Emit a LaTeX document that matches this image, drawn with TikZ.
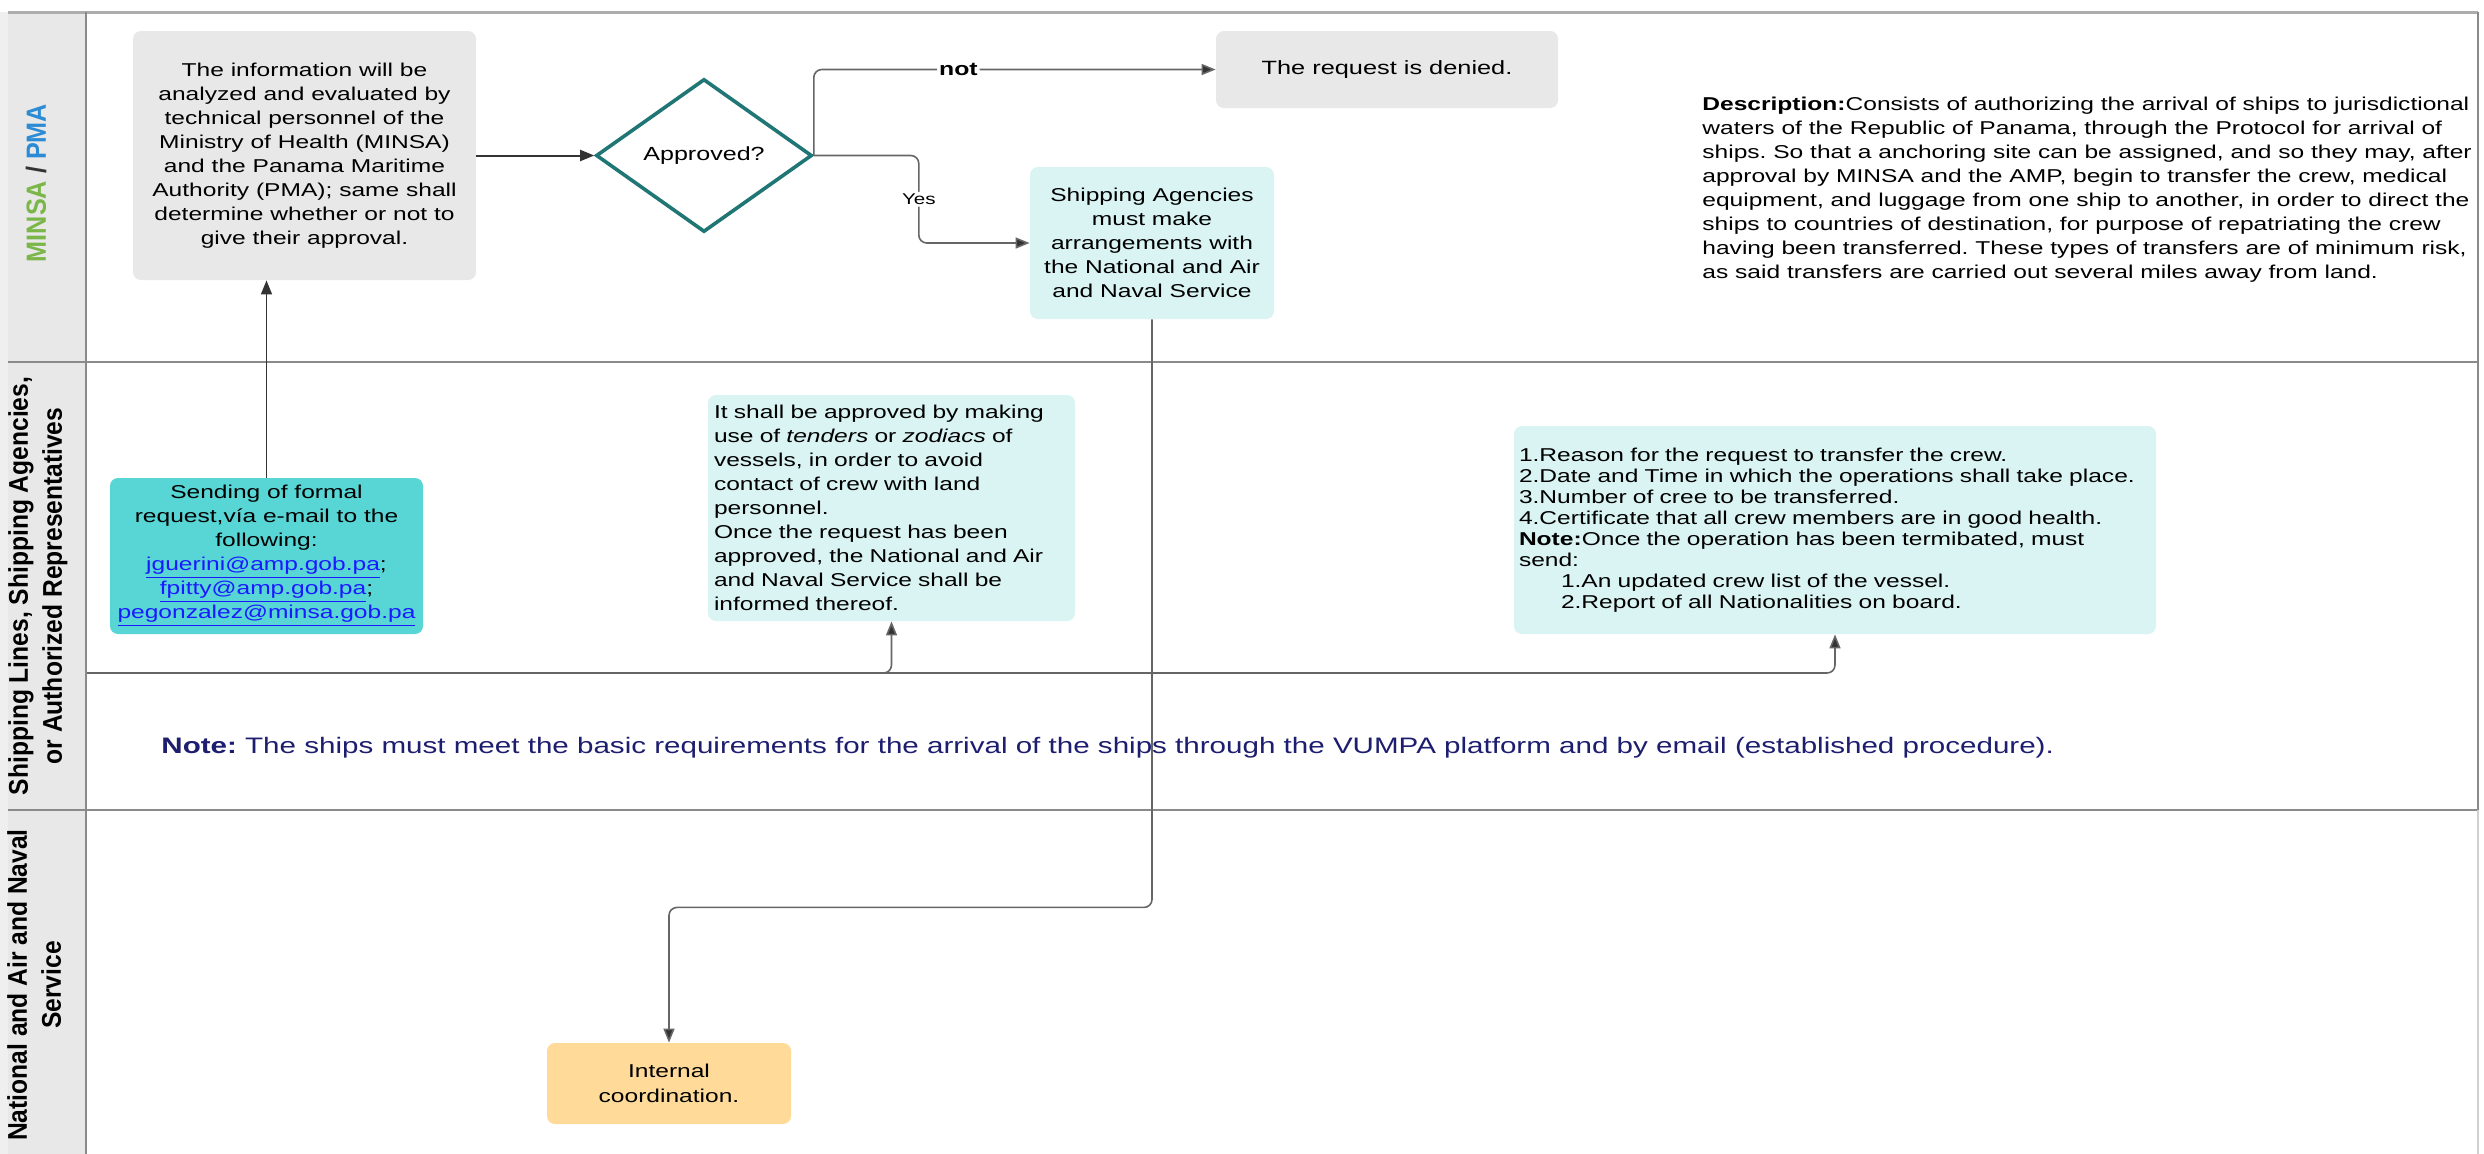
\documentclass[tikz,border=0pt]{standalone}
\usepackage{fontspec}
\setmainfont{Liberation Sans}[FakeStretch=1.32]
\newfontfamily\hdrfont{Liberation Sans}
\usetikzlibrary{arrows.meta,shapes.geometric}
\definecolor{boxgray}{HTML}{E8E8E8}
\definecolor{hdrgray}{HTML}{E8E8E8}
\definecolor{hdrgrayb}{HTML}{EFEFEF}
\definecolor{lightcyan}{HTML}{DAF4F4}
\definecolor{turq}{HTML}{58D6D6}
\definecolor{peach}{HTML}{FFDA99}
\definecolor{diamteal}{HTML}{1F7674}
\definecolor{lanegray}{HTML}{8A8A8A}
\definecolor{linkblue}{HTML}{1A1AFF}
\definecolor{notenavy}{HTML}{1E1E70}
\definecolor{minsagreen}{HTML}{7AB648}
\definecolor{pmablue}{HTML}{2B8BD4}
\definecolor{connlight}{HTML}{666666}
\definecolor{conndark}{HTML}{333333}
\newcommand{\emaillink}[1]{{\color{linkblue}\underline{#1}}}
\frenchspacing
\begin{document}
\begin{tikzpicture}[x=0.5pt,y=-0.5pt,
  every node/.style={font=\fontsize{9.3pt}{12pt}\selectfont},
  procbox/.style={rounded corners=4pt, inner sep=0pt, align=center},
  hdrlabel/.style={rotate=90, inner sep=0pt, align=center},
  connmain/.style={draw=conndark, line width=1pt, -{Triangle[length=7pt,width=5.5pt]}},
  connthin/.style={draw=connlight, line width=0.8pt, rounded corners=4pt,
     -{Triangle[length=7pt,width=5.5pt,fill=conndark]}},
  edgelbl/.style={fill=white, inner sep=1pt}
]
\useasboundingbox (0,0) rectangle (2484,1153);
\fill[white] (0,0) rectangle (2484,1153);

% lanes
\fill[hdrgrayb] (0,12) rectangle (8,1160);
\fill[hdrgray] (8,12) rectangle (86,1160);
\draw[lanegray!70, line width=1.5pt] (8,12) -- (2478,12);
\draw[lanegray, line width=1pt] (8,362) -- (2478,362);
\draw[lanegray, line width=1pt] (8,810) -- (2478,810);
\draw[lanegray, line width=0.9pt] (86,12) -- (86,1160);
\draw[lanegray, line width=0.9pt] (2478,12) -- (2478,810);
\draw[lanegray!40, line width=0.9pt] (2478,810) -- (2478,1160);

% lane headers
\node[hdrlabel] (h1) at (36,183) {\hdrfont\bfseries\fontsize{12.6pt}{15.5pt}\selectfont\scalebox{1}[1.1]{{\color{minsagreen}MINSA} {\color{conndark}/} {\color{pmablue}PMA}}};
\node[hdrlabel] (h2) at (38,586) {\hdrfont\bfseries\fontsize{12.3pt}{15.5pt}\selectfont\scalebox{1}[1.1]{\begin{tabular}{@{}c@{}}Shipping Lines, Shipping Agencies,\\or Authorized Representatives\end{tabular}}};
\node[hdrlabel] (h3) at (37,985) {\hdrfont\bfseries\fontsize{12.3pt}{15.5pt}\selectfont\scalebox{1}[1.1]{\begin{tabular}{@{}c@{}}National and Air and Naval\\Service\end{tabular}}};

% nodes
\node[procbox, fill=boxgray, minimum width=171.5pt, minimum height=124.5pt] (eval) at (304.5,155.5)
  {The information will be\\analyzed and evaluated by\\technical personnel of the\\Ministry of Health (MINSA)\\and the Panama Maritime\\Authority (PMA); same shall\\determine whether or not to\\give their approval.};
\node[diamond, draw=diamteal, line width=1.8pt, fill=white, minimum width=108pt, minimum height=76.5pt, inner sep=0pt,
  font=\fontsize{9.5pt}{12pt}\selectfont] (appr) at (704,155.5) {Approved?};
\node[procbox, fill=boxgray, minimum width=171pt, minimum height=38.5pt,
  font=\fontsize{9.6pt}{12pt}\selectfont] (deny) at (1387,69.5) {The request is denied.};
\node[procbox, fill=lightcyan, minimum width=122pt, minimum height=76pt] (ship) at (1152,243)
  {Shipping Agencies\\must make\\arrangements with\\the National and Air\\and Naval Service};
\node[anchor=north west, inner sep=0pt, align=left] (desc) at (1702,97)
  {\textbf{Description:}Consists of authorizing the arrival of ships to jurisdictional\\
   waters of the Republic of Panama, through the Protocol for arrival of\\
   ships. So that a anchoring site can be assigned, and so they may, after\\
   approval by MINSA and the AMP, begin to transfer the crew, medical\\
   equipment, and luggage from one ship to another, in order to direct the\\
   ships to countries of destination, for purpose of repatriating the crew\\
   having been transferred. These types of transfers are of minimum risk,\\
   as said transfers are carried out several miles away from land.};

\node[procbox, fill=turq, minimum width=156.5pt, minimum height=78pt] (send) at (266.5,556)
  {Sending of formal\\request,vía e-mail to the\\following:\\\emaillink{jguerini@amp.gob.pa};\\\emaillink{fpitty@amp.gob.pa};\\\emaillink{pegonzalez@minsa.gob.pa}};
\node[procbox, fill=lightcyan, minimum width=183.5pt, minimum height=113pt, text width=177.5pt, align=left] (tender) at (891.5,508)
  {It shall be approved by making\\use of \textit{tenders} or \textit{zodiacs} of\\vessels, in order to avoid\\contact of crew with land\\personnel.\\Once the request has been\\approved, the National and Air\\and Naval Service shall be\\informed thereof.};
\node[procbox, fill=lightcyan, minimum width=321pt, minimum height=104pt, text width=316pt, align=left,
  font=\fontsize{9.3pt}{10.5pt}\selectfont] (reqlist) at (1835,530)
  {1.Reason for the request to transfer the crew.\\
   2.Date and Time in which the operations shall take place.\\
   3.Number of cree to be transferred.\\
   4.Certificate that all crew members are in good health.\\
   \textbf{Note:}Once the operation has been termibated, must\\
   send:\\
   \hspace*{21pt}1.An updated crew list of the vessel.\\
   \hspace*{21pt}2.Report of all Nationalities on board.};
\node[anchor=west, inner sep=0pt, text=notenavy, font=\fontsize{11.2pt}{14pt}\selectfont] (note) at (161,748)
  {\textbf{Note:} The ships must meet the basic requirements for the arrival of the ships through the VUMPA platform and by email (established procedure).};
\node[procbox, fill=peach, minimum width=122pt, minimum height=40.5pt,
  font=\fontsize{9.3pt}{12.5pt}\selectfont] (intc) at (669,1083.5) {Internal\\coordination.};

% connectors
\coordinate (src) at (87,673);
\draw[connmain] (eval.east) -- (appr.west);
\draw[connthin] (appr.east) |- node[pos=0.68, edgelbl, font=\bfseries\fontsize{9.4pt}{11pt}\selectfont] {not} (deny.west);
\draw[connthin] (appr.east) -- ++(105,0) |- node[pos=0.25, edgelbl, font=\fontsize{7.8pt}{9pt}\selectfont] {Yes} (ship.west);
\draw[connmain, line width=0.7pt] (send.north) -- (send.north |- eval.south);
\draw[connthin] (src) -| (tender.south);
\draw[connthin] (src) -| (reqlist.south);
\draw[connthin] (ship.south) -- ++(0,588) -| (intc.north);
\end{tikzpicture}
\end{document}
